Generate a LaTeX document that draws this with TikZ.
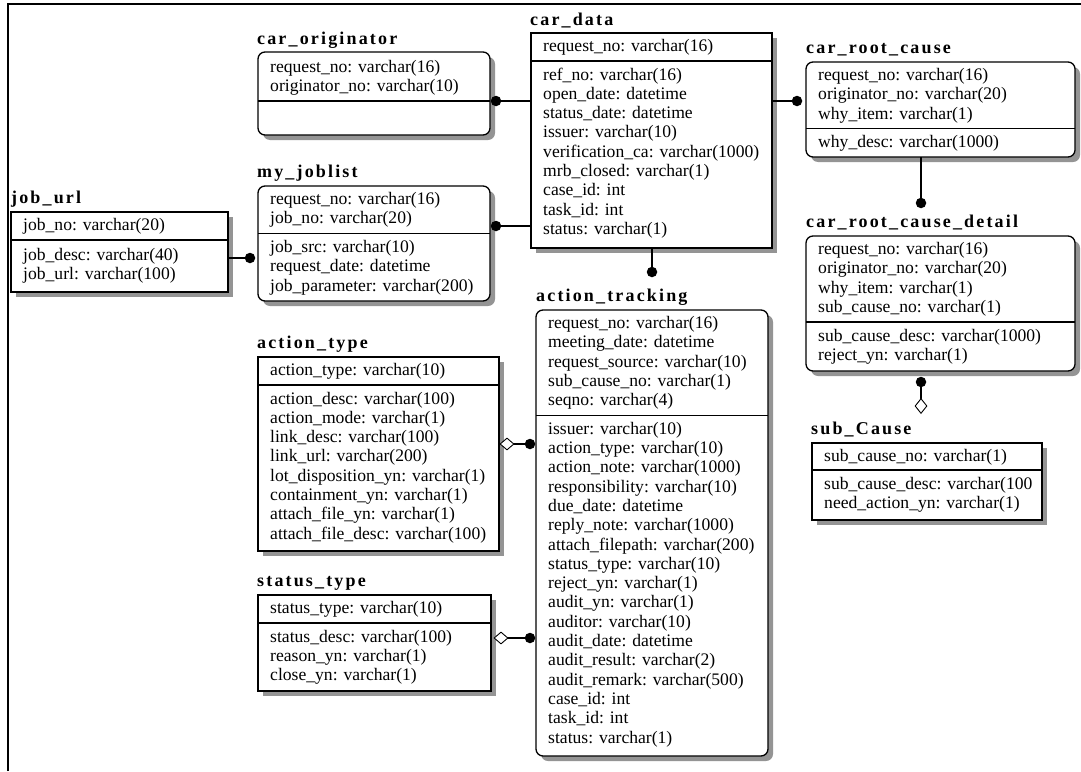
\documentclass[tikz,border=0pt]{standalone}
\usepackage{fontspec}
\setmainfont{Liberation Serif}
\newfontfamily\headfont[LetterSpace=12]{Liberation Serif}
\usetikzlibrary{shapes.geometric,backgrounds}

\newcommand\rowfont{\fontsize{17.6}{19.3}\selectfont}
\newcommand\headstyle{\headfont\bfseries\fontsize{18}{20}\selectfont}

% one text node per column line, baselines 19.3 apart
\newcommand\fieldrows[4]{%
  \foreach \fld [count=\k] in {#4}{%
    \node[field] (#1\k) at (#2,{#3+(\k-1)*19.3}) {\fld};}}

\begin{document}
\begin{tikzpicture}[x=1pt,y=-1pt,
  tbl/.style={draw=black, line width=1.3pt, fill=white, inner sep=0pt, outer sep=0pt, anchor=north west},
  rnd/.style={rounded corners=7pt},
  sep/.style={line width=1.3pt},
  shade/.style={fill=black!42},
  field/.style={anchor=base west, inner sep=0pt, font=\rowfont},
  title/.style={anchor=base west, inner sep=0pt, font=\headstyle},
  link/.style={line width=1.3pt},
  dotmark/.style={circle, fill=black, inner sep=0pt, minimum size=10.5pt},
  hdia/.style={diamond, draw, fill=white, line width=0.9pt, inner sep=0pt, minimum width=14pt, minimum height=12pt},
  vdia/.style={diamond, draw, fill=white, line width=0.9pt, inner sep=0pt, minimum width=12pt, minimum height=15pt}]

\useasboundingbox (0,0) rectangle (1081,771);
\draw[line width=2.2pt] (8,771) -- (8,4) -- (1081,4);

% ---- car_originator
\node[title] (tOrig) at (257,44) {car\_originator};
\node[tbl,rnd,minimum width=232pt,minimum height=83pt] (orig) at (258,52) {};
\draw[sep] (258,101) -- (490,101);
\fieldrows{origA}{270}{72.5}{request\_no: varchar(16), originator\_no: varchar(10)}

% ---- car_data
\node[title] (tData) at (530,25) {car\_data};
\node[tbl,minimum width=241pt,minimum height=215pt] (data) at (531,33) {};
\draw[sep] (531,61) -- (772,61);
\fieldrows{dataA}{543}{51.5}{request\_no: varchar(16)}
\fieldrows{dataB}{543}{80}{ref\_no: varchar(16), open\_date: datetime, status\_date: datetime, issuer: varchar(10), verification\_ca: varchar(1000), mrb\_closed: varchar(1), case\_id: int, task\_id: int, status: varchar(1)}

% ---- car_root_cause
\node[title] (tRoot) at (806,53) {car\_root\_cause};
\node[tbl,rnd,minimum width=269pt,minimum height=95pt] (rcause) at (806,62) {};
\draw[sep] (806,128.5) -- (1075,128.5);
\fieldrows{rootA}{818}{80.5}{request\_no: varchar(16), originator\_no: varchar(20), why\_item: varchar(1)}
\fieldrows{rootB}{818}{147.5}{why\_desc: varchar(1000)}

% ---- job_url
\node[title] (tJurl) at (11,203.5) {job\_url};
\node[tbl,minimum width=217pt,minimum height=80pt] (jurl) at (11,212) {};
\draw[sep] (11,240) -- (228,240);
\fieldrows{jurlA}{23}{230.5}{job\_no: varchar(20)}
\fieldrows{jurlB}{23}{260.5}{job\_desc: varchar(40), job\_url: varchar(100)}

% ---- my_joblist
\node[title] (tJob) at (257,177.5) {my\_joblist};
\node[tbl,rnd,minimum width=232pt,minimum height=115pt] (jobs) at (258,186) {};
\draw[sep] (258,233.3) -- (490,233.3);
\fieldrows{jobA}{270}{204.5}{request\_no: varchar(16), job\_no: varchar(20)}
\fieldrows{jobB}{270}{252.5}{job\_src: varchar(10), request\_date: datetime, job\_parameter: varchar(200)}

% ---- action_type
\node[title] (tAtype) at (257,348.5) {action\_type};
\node[tbl,minimum width=241pt,minimum height=194pt] (atype) at (258,357) {};
\draw[sep] (258,385) -- (499,385);
\fieldrows{atA}{270}{375.5}{action\_type: varchar(10)}
\fieldrows{atB}{270}{404}{action\_desc: varchar(100), action\_mode: varchar(1), link\_desc: varchar(100), link\_url: varchar(200), lot\_disposition\_yn: varchar(1), containment\_yn: varchar(1), attach\_file\_yn: varchar(1), attach\_file\_desc: varchar(100)}

% ---- status_type
\node[title] (tStype) at (257,586.5) {status\_type};
\node[tbl,minimum width=233pt,minimum height=96pt] (stype) at (258,595) {};
\draw[sep] (258,623) -- (491,623);
\fieldrows{stA}{270}{613.5}{status\_type: varchar(10)}
\fieldrows{stB}{270}{642}{status\_desc: varchar(100), reason\_yn: varchar(1), close\_yn: varchar(1)}

% ---- action_tracking
\node[title] (tTrack) at (536,301.5) {action\_tracking};
\node[tbl,rnd,minimum width=232pt,minimum height=446pt] (track) at (536,310) {};
\draw[sep] (536,415.2) -- (768,415.2);
\fieldrows{trA}{548}{328.5}{request\_no: varchar(16), meeting\_date: datetime, request\_source: varchar(10), sub\_cause\_no: varchar(1), seqno: varchar(4)}
\fieldrows{trB}{548}{434.2}{issuer: varchar(10), action\_type: varchar(10), action\_note: varchar(1000), responsibility: varchar(10), due\_date: datetime, reply\_note: varchar(1000), attach\_filepath: varchar(200), status\_type: varchar(10), reject\_yn: varchar(1), audit\_yn: varchar(1), auditor: varchar(10), audit\_date: datetime, audit\_result: varchar(2), audit\_remark: varchar(500), case\_id: int, task\_id: int, status: varchar(1)}

% ---- car_root_cause_detail
\node[title] (tDetail) at (806,227.5) {car\_root\_cause\_detail};
\node[tbl,rnd,minimum width=269pt,minimum height=135pt] (detail) at (806,236) {};
\draw[sep] (806,322) -- (1075,322);
\fieldrows{detA}{818}{254.5}{request\_no: varchar(16), originator\_no: varchar(20), why\_item: varchar(1), sub\_cause\_no: varchar(1)}
\fieldrows{detB}{818}{341}{sub\_cause\_desc: varchar(1000), reject\_yn: varchar(1)}

% ---- sub_Cause
\node[title] (tSub) at (811,434.5) {sub\_Cause};
\node[tbl,minimum width=230pt,minimum height=77pt] (subc) at (812,443) {};
\draw[sep] (812,470) -- (1042,470);
\fieldrows{subA}{824}{461}{sub\_cause\_no: varchar(1)}
\fieldrows{subB}{824}{489.5}{sub\_cause\_desc: varchar(100, need\_action\_yn: varchar(1)}

% ---- drop shadows, behind the tables
\begin{pgfonlayer}{background}
  \fill[white] (0,0) rectangle (1081,771);
  \foreach \n in {data,jurl,atype,stype,subc}
    \fill[shade] ([shift={(5,5)}]\n.north west) rectangle ([shift={(5,5)}]\n.south east);
  \foreach \n in {orig,rcause,jobs,track,detail}
    \fill[shade,rounded corners=7pt] ([shift={(5,5)}]\n.north west) rectangle ([shift={(5,5)}]\n.south east);
\end{pgfonlayer}

% ---- relationships
\node[dotmark] (d1) at (496,101) {};
\node[dotmark] (d2) at (797,101) {};
\node[dotmark] (d3) at (921,203) {};
\node[dotmark] (d4) at (496,226) {};
\node[dotmark] (d5) at (250,258) {};
\node[dotmark] (d6) at (652,272) {};
\node[dotmark] (d7) at (530,444) {};
\node[dotmark] (d8) at (530,638) {};
\node[dotmark] (d9) at (921,382) {};

\draw[link] (d1) -- (d1 -| data.west);
\draw[link] (d2 -| data.east) -- (d2);
\draw[link] (d3 |- rcause.south) -- (d3);
\draw[link] (d4) -- (d4 -| data.west);
\draw[link] (d5 -| jurl.east) -- (d5);
\draw[link] (d6 |- data.south) -- (d6);
\draw[link] (507,444) -- (d7);
\draw[link] (501,638) -- (d8);
\draw[link] (d9) -- (921,406);

\node[hdia] (m1) at (507,444) {};
\node[hdia] (m2) at (501,638) {};
\node[vdia] (m3) at (921,406) {};
\end{tikzpicture}
\end{document}
